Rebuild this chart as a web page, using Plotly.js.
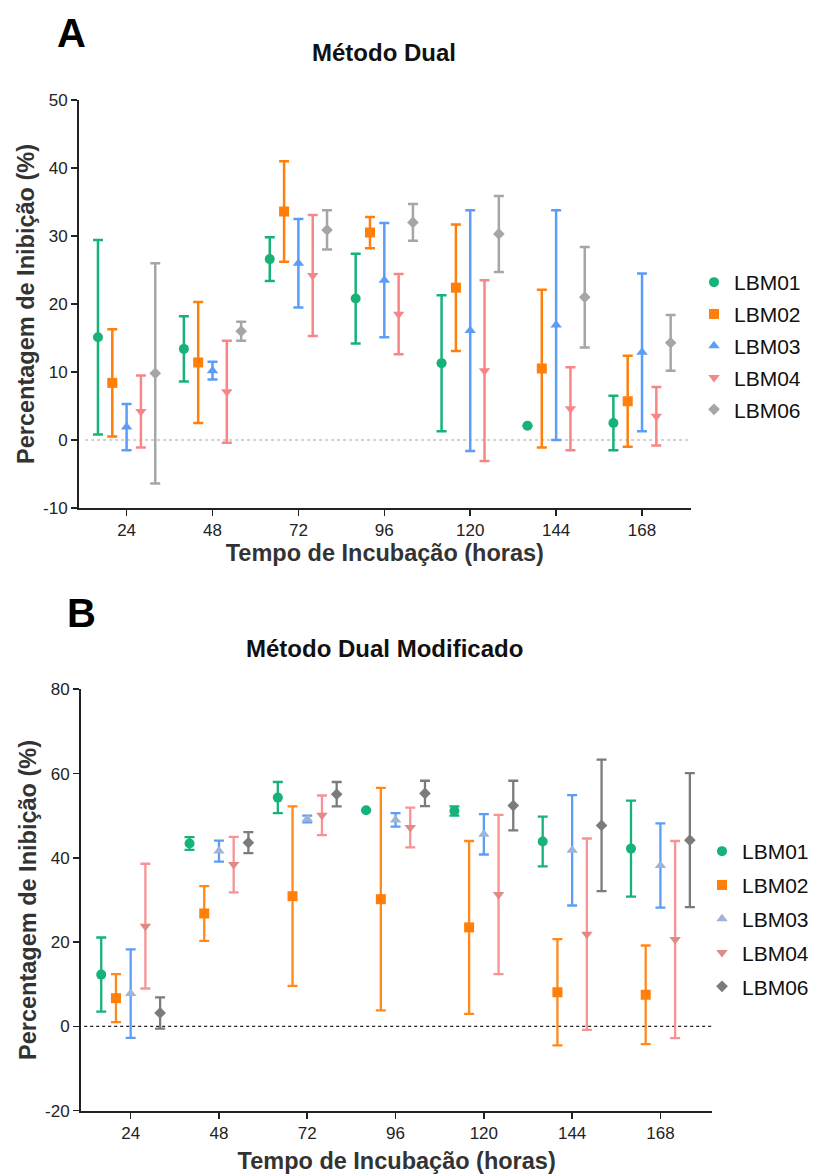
<!DOCTYPE html>
<html><head><meta charset="utf-8">
<script src="https://cdn.plot.ly/plotly-3.0.1.min.js"></script>
<style>html,body{margin:0;padding:0;background:#fff}</style>
</head><body><div id="chart" style="width:814px;height:1175px"></div>
<script>
const times = [24, 48, 72, 96, 120, 144, 168];
const strains = ['LBM01', 'LBM02', 'LBM03', 'LBM04', 'LBM06'];
const tickHours = [24, 48, 72, 96, 120, 144, 168];
const yTicksA = [-10, 0, 10, 20, 30, 40, 50];
const yTickTextA = ['-10', '0', '10', '20', '30', '40', '50'];
const yTicksB = [-20, 0, 20, 40, 60, 80];
const yTickTextB = ['-20', '0', '20', '40', '60', '80'];

// Panel A – Método Dual (mean, SD)
const aMean01 = [15.1, 13.4, 26.6, 20.8, 11.3, 2.1, 2.5];
const aSd01   = [14.3, 4.8, 3.2, 6.6, 10.0, 0, 4.0];
const aMean02 = [8.4, 11.4, 33.6, 30.5, 22.4, 10.5, 5.7];
const aSd02   = [7.9, 8.9, 7.4, 2.3, 9.3, 11.6, 6.7];
const aMean03 = [1.9, 10.2, 26.0, 23.5, 16.1, 16.9, 12.9];
const aSd03   = [3.4, 1.3, 6.5, 8.4, 17.7, 16.9, 11.6];
const aMean04 = [4.2, 7.1, 24.2, 18.5, 10.2, 4.6, 3.5];
const aSd04   = [5.3, 7.5, 8.9, 5.9, 13.3, 6.1, 4.3];
const aMean06 = [9.8, 16.0, 30.9, 32.0, 30.3, 21.0, 14.3];
const aSd06   = [16.2, 1.4, 2.9, 2.7, 5.6, 7.4, 4.1];

// Panel B – Método Dual Modificado (mean, SD)
const bMean01 = [12.3, 43.4, 54.3, 51.3, 51.1, 43.9, 42.2];
const bSd01   = [8.8, 1.5, 3.7, 0, 1.1, 5.9, 11.4];
const bMean02 = [6.7, 26.8, 30.9, 30.2, 23.5, 8.1, 7.5];
const bSd02   = [5.7, 6.5, 21.3, 26.4, 20.5, 12.6, 11.7];
const bMean03 = [7.8, 41.6, 49.2, 49.0, 45.6, 41.8, 38.2];
const bSd03   = [10.5, 2.5, 0.8, 1.6, 4.8, 13.1, 10.0];
const bMean04 = [23.8, 38.4, 50.1, 47.2, 31.3, 21.9, 20.6];
const bSd04   = [14.8, 6.6, 4.7, 4.7, 18.9, 22.7, 23.4];
const bMean06 = [3.2, 43.6, 55.1, 55.3, 52.4, 47.7, 44.2];
const bSd06   = [3.7, 2.5, 2.9, 3.0, 5.9, 15.6, 15.9];

const W = 814, H = 1175;
const FONT = 'Liberation Sans, Arial, Helvetica, sans-serif';
const offsets = [-8, -4, 0, 4, 8];
const symbols = ['circle', 'square', 'triangle-up', 'triangle-down', 'diamond'];
const sizes = [10, 10, 10, 10, 9];
const aColors = ['#17b277', '#ff7f0a', '#5b9df7', '#f98686', '#a6a6a6'];
const aBarColors = aColors;
const bColors = ['#17b277', '#ff7f0a', '#9fb4d6', '#dd8b84', '#7b7b7b'];
const bBarColors = ['#17b277', '#ff8a1a', '#5b9df7', '#f99393', '#7b7b7b'];

const aMeans = [aMean01, aMean02, aMean03, aMean04, aMean06];
const aSds = [aSd01, aSd02, aSd03, aSd04, aSd06];
const bMeans = [bMean01, bMean02, bMean03, bMean04, bMean06];
const bSds = [bSd01, bSd02, bSd03, bSd04, bSd06];

const traces = [];
strains.forEach((s, i) => {
  traces.push({
    type: 'scatter', mode: 'markers', name: s,
    x: times.map(t => t + offsets[i]), y: aMeans[i],
    xaxis: 'x', yaxis: 'y', legend: 'legend', legendgroup: 'a' + i,
    marker: {symbol: symbols[i], size: sizes[i], color: aColors[i]},
    error_y: {type: 'data', symmetric: true, array: aSds[i], color: aBarColors[i], thickness: 2.5, width: 5},
    hoverinfo: 'x+y+name'
  });
});
strains.forEach((s, i) => {
  traces.push({
    type: 'scatter', mode: 'markers', name: s,
    x: times.map(t => t + offsets[i]), y: bMeans[i],
    xaxis: 'x2', yaxis: 'y2', legend: 'legend2', legendgroup: 'b' + i,
    marker: {symbol: symbols[i], size: sizes[i], color: bColors[i]},
    error_y: {type: 'data', symmetric: true, array: bSds[i], color: bBarColors[i], thickness: 2.3, width: 5},
    hoverinfo: 'x+y+name'
  });
});

function px(x) { return x / W; }
function py(y) { return 1 - y / H; }

const axisCommon = {
  showgrid: false, zeroline: false, showline: true, linecolor: '#222', linewidth: 2,
  ticks: 'outside', ticklen: 6, tickwidth: 1.6, tickcolor: '#222',
  tickfont: {family: FONT, size: 17, color: '#222'}, automargin: false
};
function xTitle(st) {
  return {text: '<b>Tempo de Incubação (horas)</b>', font: {family: FONT, size: 23.5, color: '#333'}, standoff: st};
}
const yTitle = {text: '<b>Percentagem de Inibição (%)</b>', font: {family: FONT, size: 23.5, color: '#333'}, standoff: 2};

const layout = {
  width: W, height: H, margin: {l: 0, r: 0, t: 0, b: 0},
  paper_bgcolor: '#fff', plot_bgcolor: '#fff', showlegend: true,
  title: {text: '<b>Método Dual</b>', x: px(384), xanchor: 'center', y: py(53), yanchor: 'middle',
          font: {family: FONT, size: 24, color: '#111'}},
  xaxis: Object.assign({}, axisCommon, {domain: [px(79), px(690.7)], range: [10.7, 181.6],
          tickmode: 'array', tickvals: tickHours, anchor: 'y', title: xTitle(4)}),
  yaxis: Object.assign({}, axisCommon, {domain: [py(508), py(100)], range: [-10, 50],
          tickmode: 'array', tickvals: yTicksA, ticktext: yTickTextA, anchor: 'x', title: yTitle}),
  xaxis2: Object.assign({}, axisCommon, {domain: [px(81), px(712.3)], range: [10.5, 182.1],
          tickmode: 'array', tickvals: tickHours, anchor: 'y2', title: xTitle(10)}),
  yaxis2: Object.assign({}, axisCommon, {domain: [py(1110.7), py(689.3)], range: [-20, 80],
          tickmode: 'array', tickvals: yTicksB, ticktext: yTickTextB, anchor: 'x2', title: yTitle}),
  legend: {x: px(694), y: py(262), xanchor: 'left', yanchor: 'top', traceorder: 'grouped', tracegroupgap: 1.5,
           font: {family: FONT, size: 21, color: '#111'}, bgcolor: 'rgba(0,0,0,0)'},
  legend2: {x: px(702), y: py(831), xanchor: 'left', yanchor: 'top', traceorder: 'grouped', tracegroupgap: 3.5,
           font: {family: FONT, size: 21, color: '#111'}, bgcolor: 'rgba(0,0,0,0)'},
  shapes: [
    {type: 'line', xref: 'x domain', yref: 'y', x0: 0.01, x1: 1, y0: 0, y1: 0,
     line: {color: '#c4c4c4', width: 1.3, dash: 'dot'}, layer: 'below'},
    {type: 'line', xref: 'x2 domain', yref: 'y2', x0: 0.005, x1: 1, y0: 0, y1: 0,
     line: {color: '#222', width: 1.3, dash: 'dot'}, layer: 'below'}
  ],
  annotations: [
    {text: '<b>A</b>', xref: 'paper', yref: 'paper', x: px(55), y: py(33), xanchor: 'left', yanchor: 'middle',
     showarrow: false, font: {family: FONT, size: 40, color: '#000'}},
    {text: '<b>B</b>', xref: 'paper', yref: 'paper', x: px(65), y: py(613), xanchor: 'left', yanchor: 'middle',
     showarrow: false, font: {family: FONT, size: 40, color: '#000'}},
    {text: '<b>Método Dual Modificado</b>', xref: 'paper', yref: 'paper', x: px(384), y: py(648),
     xanchor: 'center', yanchor: 'middle', showarrow: false, font: {family: FONT, size: 24, color: '#111'}}
  ]
};

Plotly.newPlot('chart', traces, layout, {displayModeBar: false, staticPlot: true});
</script>
</body></html>
